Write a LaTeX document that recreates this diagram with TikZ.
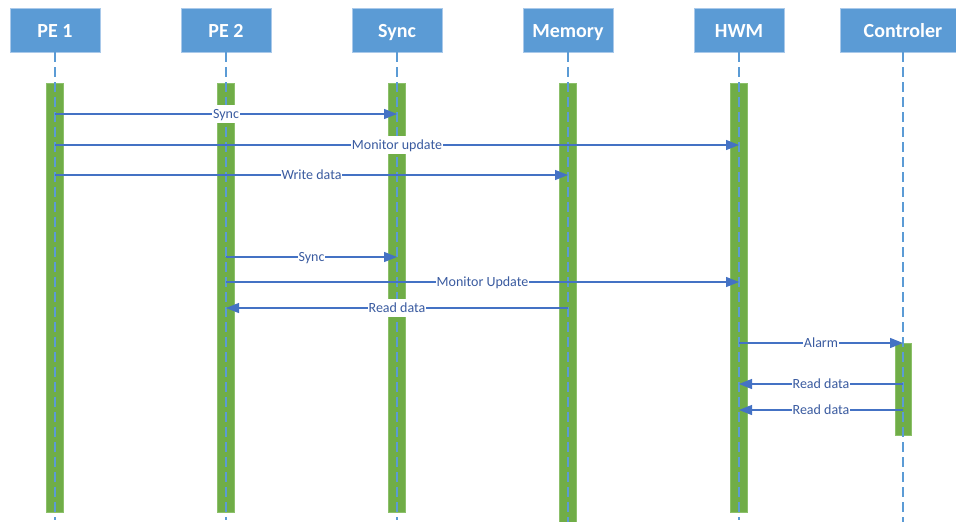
\documentclass[tikz,border=0pt]{standalone}
\usepackage{fontspec}
\setmainfont{Carlito}
\usetikzlibrary{arrows.meta}
\definecolor{hdr}{HTML}{5B9BD5}
\definecolor{hdredge}{HTML}{A9C9EA}
\definecolor{bargreen}{HTML}{70AD47}
\definecolor{baredge}{HTML}{8CC06A}
\definecolor{life}{HTML}{5B9BD5}
\definecolor{arr}{HTML}{4472C4}
\definecolor{lbl}{HTML}{3A5BA0}
\begin{document}
\begin{tikzpicture}[x=1pt,y=-1pt,
 header/.style={rectangle, fill=hdr, draw=hdredge, line width=0.8pt, minimum width=90pt, minimum height=44pt, inner sep=0pt, text height=14.6pt, text depth=0pt, text=white, font=\fontsize{20}{24}\selectfont\bfseries},
 actbar/.style={rectangle, fill=bargreen, draw=baredge, line width=0.6pt, minimum width=16.5pt, inner sep=0pt, anchor=north},
 lifeline/.style={draw=life, line width=1.4pt, dash pattern=on 10pt off 5pt},
 msg/.style={draw=arr, line width=1.1pt, -{Triangle[length=13pt,width=10pt]}},
 msglabel/.style={fill=white, text=lbl, font=\fontsize{14}{16}\selectfont, inner xsep=1pt, inner ysep=0pt, text height=9pt, text depth=0pt, minimum height=18pt}
]
\useasboundingbox (0,0) rectangle (956,522);
\clip (0,0) rectangle (956,522);
\fill[white] (0,0) rectangle (956,522);

% headers
\node[header] (hpe1) at (55,30) {PE 1};
\node[header] (hpe2) at (226,30) {PE 2};
\node[header] (hsync) at (397,30) {Sync};
\node[header] (hmem) at (568,30) {Memory};
\node[header] (hhwm) at (739,30) {HWM};
\node[header, minimum width=126pt] (hctl) at (903,30) {Controler};

% activation bars
\node[actbar, minimum height=429pt] (bpe1) at (55,83) {};
\node[actbar, minimum height=429pt] (bpe2) at (226,83) {};
\node[actbar, minimum height=429pt] (bsync) at (397,83) {};
\node[actbar, minimum height=442pt] (bmem) at (568,83) {};
\node[actbar, minimum height=429pt] (bhwm) at (739,83) {};
\node[actbar, minimum height=92pt, minimum width=16pt] (bctl) at (903,343) {};

% lifeline ends
\coordinate (epe1) at (55,520);
\coordinate (epe2) at (226,520);
\coordinate (esync) at (397,520);
\coordinate (emem) at (568,522);
\coordinate (ehwm) at (739,520);
\coordinate (ectl) at (903,522);
\draw[lifeline] (hpe1.south) -- (epe1);
\draw[lifeline] (hpe2.south) -- (epe2);
\draw[lifeline] (hsync.south) -- (esync);
\draw[lifeline] (hmem.south) -- (emem);
\draw[lifeline] (hhwm.south) -- (ehwm);
\draw[lifeline] (hctl.south) -- (ectl);

% message end points
\coordinate (m1s) at (55,114);  \coordinate (m1e) at (397,114);
\coordinate (m2s) at (55,145);  \coordinate (m2e) at (739,145);
\coordinate (m3s) at (55,175);  \coordinate (m3e) at (568,175);
\coordinate (m4s) at (226,257); \coordinate (m4e) at (397,257);
\coordinate (m5s) at (226,282); \coordinate (m5e) at (739,282);
\coordinate (m6s) at (568,308); \coordinate (m6e) at (226,308);
\coordinate (m7s) at (739,343); \coordinate (m7e) at (903,343);
\coordinate (m8s) at (903,384); \coordinate (m8e) at (739,384);
\coordinate (m9s) at (903,410); \coordinate (m9e) at (739,410);

\draw[msg] (m1s) -- node[msglabel] (l1) {Sync} (m1e);
\draw[msg] (m2s) -- node[msglabel] (l2) {Monitor update} (m2e);
\draw[msg] (m3s) -- node[msglabel] (l3) {Write data} (m3e);
\draw[msg] (m4s) -- node[msglabel] (l4) {Sync} (m4e);
\draw[msg] (m5s) -- node[msglabel] (l5) {Monitor Update} (m5e);
\draw[msg] (m6s) -- node[msglabel] (l6) {Read data} (m6e);
\draw[msg] (m7s) -- node[msglabel] (l7) {Alarm} (m7e);
\draw[msg] (m8s) -- node[msglabel] (l8) {Read data} (m8e);
\draw[msg] (m9s) -- node[msglabel] (l9) {Read data} (m9e);
\end{tikzpicture}
\end{document}
